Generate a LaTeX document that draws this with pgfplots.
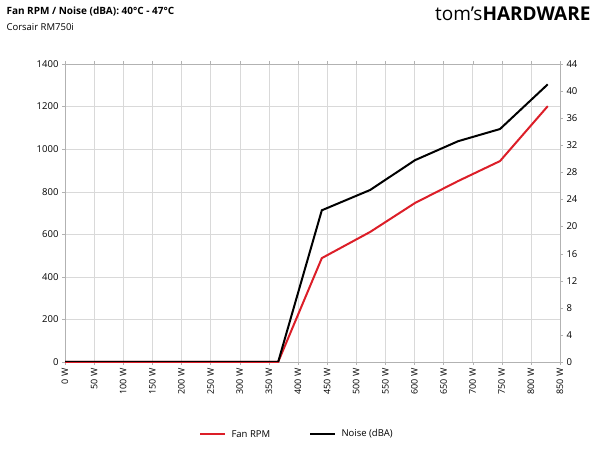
\documentclass[border=0pt]{standalone}
\usepackage{pgfplots}
\pgfplotsset{compat=1.18}
\usepackage{fontspec}
\setmainfont{Open Sans}
\definecolor{fanred}{RGB}{220,30,40}
\begin{document}
\begin{tikzpicture}
\path[use as bounding box] (0,0) rectangle (600pt,450pt);
\node[anchor=north west,font=\bfseries\fontsize{10}{11}\selectfont] at (3pt,447pt) {Fan RPM / Noise (dBA): 40°C - 47°C};
\node[anchor=north west,font=\fontsize{9.5}{11}\selectfont] at (3pt,430pt) {Corsair RM750i};
\node[anchor=north east,font=\fontsize{19}{20}\selectfont] at (594pt,447pt) {tom's\textbf{HARDWARE}};
\begin{axis}[at={(65pt,88pt)},anchor=south west,width=495pt,height=298pt,scale only axis,
 xmin=0,xmax=850,ymin=0,ymax=1400,axis y line*=left,
 xtick={0,50,...,850},xticklabel={\pgfmathprintnumber{\tick} W},
 xticklabel style={rotate=90,anchor=east,font=\fontsize{9}{10}\selectfont},
 ytick={0,200,...,1400},yticklabel style={font=\fontsize{9.5}{10}\selectfont},
 /pgf/number format/assume math mode=true,/pgf/number format/1000 sep={},
 ymajorgrids,xmajorgrids,grid style={gray!30},axis line style={gray!60},tick style={gray!60},
 tick align=outside,major tick length=3pt,clip=false]
\addplot[fanred,line width=2pt] coordinates {(0,0)(366,0)(441,488)(524,611)(601,747)(675,850)(747,944)(829,1202)};
\end{axis}
\begin{axis}[at={(65pt,88pt)},anchor=south west,width=495pt,height=298pt,scale only axis,
 xmin=0,xmax=850,ymin=0,ymax=44,axis y line*=right,axis x line=none,
 ytick={0,4,...,44},yticklabel style={font=\fontsize{9.5}{10}\selectfont},
 /pgf/number format/assume math mode=true,axis line style={gray!60},tick style={gray!60},
 tick align=outside,major tick length=3pt]
\addplot[black,line width=2pt] coordinates {(0,0)(366,0)(441,22.4)(524,25.4)(601,29.8)(675,32.6)(747,34.4)(829,41.0)};
\end{axis}
\draw[fanred,line width=2pt] (200pt,16pt)--(225pt,16pt);
\node[anchor=west,font=\fontsize{9.5}{10}\selectfont] at (228pt,16pt) {Fan RPM};
\draw[black,line width=2pt] (310pt,16pt)--(335pt,16pt);
\node[anchor=west,font=\fontsize{9.5}{10}\selectfont] at (338pt,16pt) {Noise (dBA)};
\end{tikzpicture}
\end{document}
